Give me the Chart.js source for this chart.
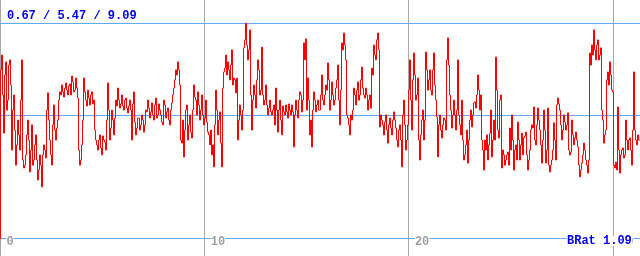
<!DOCTYPE html>
<html>
<head>
<meta charset="utf-8">
<script src="https://cdn.jsdelivr.net/npm/chart.js@4"></script>
<style>
html, body { margin: 0; padding: 0; background: #ffffff; }
#wrap { position: relative; width: 640px; height: 256px; overflow: hidden; }
canvas { display: block; }
.lbl { position: absolute; font: bold 12px "Liberation Mono", monospace; color: #0000ee; white-space: pre; }
#stats { left: 7px; top: 10px; line-height: 12px; }
#brat { left: 567px; top: 236px; line-height: 11px; height: 10px; background: #ffffff; }
</style>
</head>
<body>
<div id="wrap">
  <canvas id="c" width="640" height="256"></canvas>
  <div id="stats" class="lbl">0.67 / 5.47 / 9.09</div>
  <div id="brat" class="lbl">BRat 1.09</div>
</div>
<script>
// ---- data: one sample every SAMPLE_DT along the x axis ----
const SAMPLE_DT = 0.0489716;
const xTicks = [0, 10, 20, 30];
const refLines = [0.67, 5.47, 9.09];   // min / avg / max

const seg0 = [
  0.67,7.27,7.85,6.29,4.80,7.07,7.58,5.70,6.09,7.46, 7.66,6.68,4.14,5.70,6.29,4.92,3.55,4.34,5.31,4.73,
  4.14,6.09,7.66,3.75,3.44,3.55,3.95,4.73,5.31,4.53, 3.28,4.14,5.12,3.55,3.75,4.34,4.73,3.75,2.97,3.36,
  3.95,3.55,2.70,3.95,4.34,4.14,3.83,5.70,6.37,5.31, 4.53,3.95,3.55,5.12,5.90,4.92,4.53,5.00,5.31,6.09,
  6.41,6.29,6.68,6.41,6.21,6.56,6.76,6.48,6.29,6.64, 6.72,6.29,7.03,6.80,6.41,6.48,6.95,6.56,6.17,4.14,
  3.55,3.75,4.34,5.31,6.95,6.41,6.09,5.86,6.48,6.17, 5.90,6.29,6.41,5.94,6.09,4.92,4.53,4.34,4.14,4.53,
  4.73,4.22,3.95,4.69,4.53,4.45,4.14,5.31,6.76,5.70, 4.53,5.00,5.70,5.31,4.73,5.39,6.09,5.86,6.56,6.09,
  5.78,5.94,6.29,5.86,5.70,6.09,6.17,5.78,5.59,5.86, 6.09,5.70,4.53,5.94,6.41,5.23,4.73,5.00,5.39,5.39,
  4.92,5.12,5.51,5.31,4.84,5.12,5.70,5.63,6.09,5.78, 5.39,5.63,5.98,5.51,5.31,5.90,6.17,5.39,5.51,5.94];
const seg1 = [
  5.70,5.51,5.23,5.12,6.09,5.90,5.39,5.63,5.78,5.31, 5.12,5.70,5.98,6.29,6.56,6.88,7.27,7.07,7.58,7.27,
  6.68,4.53,4.41,5.31,3.87,4.92,5.70,5.90,4.53,5.12, 5.51,4.84,4.61,5.70,6.68,6.21,6.09,5.51,6.41,5.90,
  5.31,5.70,6.29,5.51,5.12,5.39,6.09,5.23,4.84,4.73, 4.34,4.92,3.95,4.34,3.48,5.12,6.48,5.70,4.73,5.31,
  5.63,4.41,3.48,6.56,7.19,7.34,7.85,7.07,7.58,7.27, 6.88,7.46,8.05,6.68,6.95,6.88,6.37,6.95,4.53,5.31,
  5.90,5.51,4.92,5.70,8.13,8.44,9.09,8.24,7.66,8.05, 8.83,6.29,4.92,6.09,6.68,6.29,5.78,6.88,7.66,7.27,
  6.29,6.48,8.16,6.29,5.90,6.09,6.68,5.90,5.51,5.78, 6.09,5.63,5.51,5.70,5.90,5.12,6.56,5.70,4.84,5.70,
  6.09,5.31,4.73,5.86,5.63,5.51,5.90,5.63,5.39,5.94, 5.70,5.51,5.90,5.63,4.26,5.51,6.09,5.70,5.39,6.09,
  6.41,6.29,5.63,6.09,8.32,7.66,8.48,5.70,6.95,6.09, 4.73,5.31,4.26,5.70,6.41,6.09,5.63,5.90,6.09,5.70];
const seg2 = [
  5.70,6.29,7.07,6.09,5.90,6.29,6.68,6.48,7.54,6.88, 5.70,6.09,6.80,6.29,5.90,6.09,6.56,6.88,7.46,6.09,
  5.12,6.48,8.32,8.05,8.71,8.24,7.66,5.51,5.39,5.12, 4.73,5.51,5.31,5.70,6.56,6.29,5.90,6.48,6.80,6.09,
  6.29,6.88,7.38,6.56,6.29,6.17,6.56,6.29,5.70,6.09, 6.29,5.78,7.34,7.07,8.24,7.85,7.66,8.44,8.71,8.05,
  5.04,5.51,5.31,5.12,4.73,5.23,5.51,4.92,4.41,5.12, 5.39,5.00,4.73,5.31,5.63,5.31,5.00,4.53,4.26,4.92,
  5.12,4.53,3.48,5.51,6.09,5.12,4.14,4.53,5.12,6.48, 7.66,6.09,4.92,6.88,7.93,7.07,6.09,6.29,6.95,4.53,
  3.75,4.73,5.31,5.70,4.53,5.31,7.97,7.27,6.48,6.88, 7.27,6.48,6.29,7.27,7.93,6.68,6.09,5.43,3.87,5.12,
  5.51,4.92,4.61,5.12,5.39,5.31,4.92,7.66,8.52,7.46, 6.29,5.70,5.00,5.51,6.09,5.51,4.92,5.70,7.66,5.51,
  5.12,4.73,6.09,4.53,3.75,3.95,4.34,4.92,3.63,4.53, 5.31,5.70,5.04,5.51,5.98,6.02,5.78,6.29,7.07,6.48];
const seg3 = [
  5.70,6.29,4.53,4.14,3.36,4.53,4.14,4.73,3.75,4.34, 4.80,5.70,3.87,4.53,5.31,4.53,7.77,6.48,4.92,4.61,
  6.09,6.29,3.44,4.14,3.95,3.55,3.75,3.95,4.06,3.55, 5.00,4.14,5.51,4.53,3.36,4.14,4.34,3.75,5.23,4.53,
  3.75,4.34,4.80,3.95,4.61,4.69,4.84,3.95,3.36,3.75, 4.14,4.92,5.12,5.00,5.82,4.53,4.34,5.12,5.78,5.31,
  4.92,4.34,3.63,4.53,5.70,4.92,3.63,4.14,5.78,3.55, 3.28,3.55,3.75,4.14,5.20,4.53,3.75,5.90,6.17,5.94,
  5.70,5.12,4.53,4.92,5.51,5.23,4.92,5.12,5.59,4.14, 3.95,4.06,5.31,4.73,4.34,4.61,4.84,4.53,4.26,3.55,
  3.09,3.36,3.63,3.95,4.41,4.14,3.75,3.55,3.24,3.75, 7.93,7.46,8.24,7.85,8.83,8.05,7.66,8.24,8.44,7.66,
  7.85,8.13,5.70,5.31,4.41,4.73,4.92,6.88,7.19,6.68, 7.58,7.07,6.48,6.41,3.55,3.44,3.67,3.36,5.82,4.14,
  3.24,3.95,4.14,4.22,3.83,3.95,5.31,4.53,4.14,4.53, 4.61,4.14,3.55,4.92,7.19,4.92,4.53,4.34,4.73,4.53,4.53];

const series = seg0.concat(seg1, seg2, seg3);
const points = series.map((v, i) => ({ x: i * SAMPLE_DT, y: v }));

const X_MIN = -0.024486;
const X_MAX = 31.317336;

const xTickSetter = s => { s.ticks = xTicks.map(v => ({ value: v })); };

new Chart(document.getElementById('c'), {
  type: 'line',
  data: {
    datasets: [{
      data: points,
      borderColor: '#ff0000',
      borderWidth: 1,
      pointRadius: 0,
      pointHoverRadius: 0,
      stepped: 'after',
      fill: false,
      tension: 0
    }]
  },
  options: {
    responsive: false,
    animation: false,
    events: [],
    layout: { padding: 0 },
    plugins: { legend: { display: false }, tooltip: { enabled: false } },
    scales: {
      x: {
        type: 'linear', min: X_MIN, max: X_MAX, position: 'bottom',
        afterFit: s => { s.height = 0; },
        afterBuildTicks: xTickSetter,
        grid: { color: '#a8a8a8', lineWidth: 1, drawTicks: false },
        border: { display: false },
        ticks: { display: false }
      },
      xl: {
        type: 'linear', axis: 'x', min: X_MIN, max: X_MAX,
        position: { y: 0.84 }, z: 2,
        afterFit: s => { s.height = 0; },
        afterBuildTicks: xTickSetter,
        grid: { display: false, drawTicks: false },
        border: { display: false },
        ticks: {
          align: 'start', labelOffset: 6, padding: 0, maxRotation: 0, autoSkip: false,
          color: '#a0a0a0',
          font: { family: 'Liberation Mono', size: 12, weight: 'bold' },
          showLabelBackdrop: true, backdropColor: '#ffffff', backdropPadding: 0,
          callback: v => String(v)
        }
      },
      y: {
        type: 'linear', min: 0, max: 10, position: 'left', z: 1,
        afterFit: s => { s.width = 0; },
        afterBuildTicks: s => { s.ticks = refLines.map(v => ({ value: v })); },
        grid: { color: '#64aaf0', lineWidth: 1, drawTicks: false },
        border: { display: false },
        ticks: { display: false }
      }
    }
  }
});
</script>
</body>
</html>
